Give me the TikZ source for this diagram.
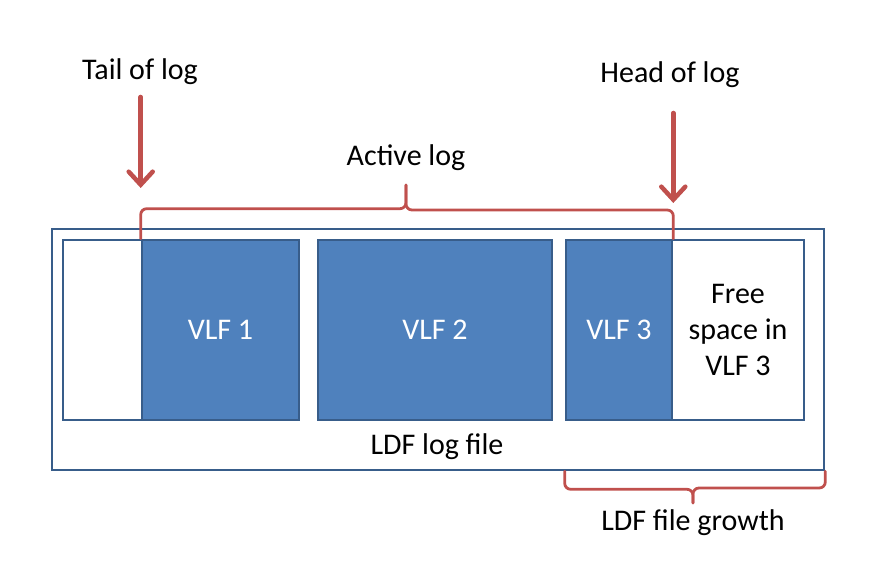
\documentclass[tikz,border=0pt]{standalone}
\usepackage{fontspec}
\setmainfont{Carlito}
\usetikzlibrary{arrows.meta, positioning, calc}
\definecolor{vlfblue}{RGB}{79,129,189}
\definecolor{edgeblue}{RGB}{56,93,138}
\definecolor{markred}{RGB}{192,80,77}

\begin{document}
\begin{tikzpicture}[
    x=1pt, y=-1pt,
    vlf/.style={rectangle, draw=edgeblue, line width=2.6pt, minimum height=180pt, inner sep=0pt, align=center, font=\fontsize{30}{36}\selectfont},
    label/.style={font=\fontsize{30}{36}\selectfont, inner sep=0pt},
    pointer/.style={-{Straight Barb[length=13pt, width=24pt, line cap=round]}, markred, line width=4.5pt, line cap=round},
    bracket/.style={markred, line width=2.8pt, rounded corners=6pt, line cap=round}
]
\useasboundingbox (0,0) rectangle (878,577);

% log file and its VLFs
\node[rectangle, draw=edgeblue, line width=2.6pt, minimum width=772pt, minimum height=241pt, inner sep=0pt] (ldf) at (438,349.5) {};
\node[vlf, fill=white, minimum width=79pt] (unused) at (102.5,330) {};
\node[vlf, fill=vlfblue, text=white, minimum width=157pt] (vlf1) at (220.5,330) {VLF 1};
\node[vlf, fill=vlfblue, text=white, minimum width=234pt] (vlf2) at (435,330) {VLF 2};
\node[vlf, fill=vlfblue, text=white, minimum width=106pt] (vlf3) at (619,330) {VLF 3};
\node[vlf, fill=white, minimum width=132pt] (free) at (738,330) {Free\\space in\\VLF 3};
\node[label] (ldfname) at (437,447) {LDF log file};

% labels
\node[label] (tail) at (140,72) {Tail of log};
\node[label] (head) at (670,75) {Head of log};
\node[label] (active) at (406,158) {Active log};
\node[label] (growth) at (693,523) {LDF file growth};

% pointers
\draw[pointer] (vlf1.north west |- 0,97) -- (vlf1.north west |- 0,188);
\draw[pointer] (vlf3.north east |- 0,113) -- (vlf3.north east |- 0,203);

% brackets
\draw[bracket] (vlf1.north west) -- ++(0,-30) -| (active.south |- 0,185);
\draw[bracket] (active.south |- 0,185) -- (active.south |- 0,210) -| (vlf3.north east);
\draw[bracket] (vlf3.south west |- ldf.south) -- ++(0,18) -| (growth.north |- 0,503);
\draw[bracket] (growth.north |- 0,503) -- (growth.north |- 0,488) -| (ldf.south east);
\end{tikzpicture}
\end{document}
